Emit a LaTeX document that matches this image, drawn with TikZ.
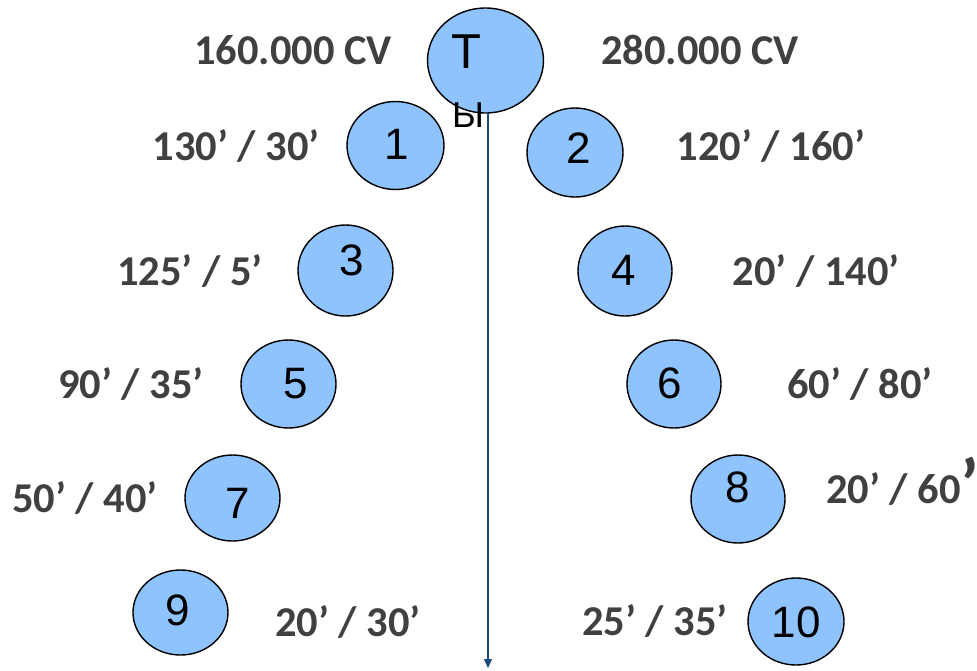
\documentclass[tikz,border=0pt]{standalone}
\usepackage{fontspec}
\setmainfont{Liberation Sans}
\newfontfamily\labfont{Carlito}
\usetikzlibrary{arrows.meta}
\definecolor{cfill}{HTML}{8EC3FD}
\definecolor{ltxt}{HTML}{404040}
\definecolor{arr}{HTML}{1C4A7E}
\tikzset{
  num/.style={font=\fontsize{44}{44}\selectfont, text=black, inner sep=0pt},
  lab/.style={font=\labfont\bfseries\fontsize{42.5}{42.5}\selectfont, text=ltxt, inner sep=0pt},
}
\begin{document}
\begin{tikzpicture}[x=1pt,y=-1pt]
\useasboundingbox (0,0) rectangle (977,670);
% circles
\newcommand{\bubble}[5]{\path[draw=black,line width=1.4pt,fill=cfill] (#1,#2) ellipse [x radius=#3, y radius=#4]; \coordinate (#5) at (#1,#2);}
\bubble{485.5}{60.5}{58}{52.5}{cT}
\bubble{395.5}{145.5}{48.5}{44}{c1}
\bubble{575}{152.5}{48}{44.5}{c2}
\bubble{345.5}{270.5}{47.5}{45.5}{c3}
\bubble{625}{271}{47}{45}{c4}
\bubble{288.5}{384}{47.5}{44}{c5}
\bubble{674}{384}{47}{44}{c6}
\bubble{232.5}{498}{47.5}{43}{c7}
\bubble{738}{499}{47}{44}{c8}
\bubble{180.5}{612.5}{47.5}{42.5}{c9}
\bubble{796}{621.5}{48}{43.5}{c10}
% texts in circles
\node[num, font=\fontsize{49}{49}\selectfont] (tT) at (466,52) {T};
\node[num, font=\fontsize{36}{36}\selectfont] (tY) at (468,115) {Ы};
\node[num] (t1) at (397,144) {1};
\node[num] (t2) at (579,148) {2};
\node[num] (t3) at (352,260) {3};
\node[num] (t4) at (624,270) {4};
\node[num] (t5) at (296,384) {5};
\node[num] (t6) at (670,383) {6};
\node[num] (t7) at (238,503) {7};
\node[num] (t8) at (738,487) {8};
\node[num] (t9) at (178,610) {9};
\node[num] (t10) at (796,622) {10};
% arrow
\coordinate (aS) at (488,113);
\coordinate (aE) at (488,668);
\draw[arr, line width=1.3pt, -{Triangle[length=9pt,width=8pt]}] (aS) -- (aE);
% labels
\node[lab] (l0a) at (293,50) {160.000 CV};
\node[lab] (l0b) at (700,50) {280.000 CV};
\node[lab] (l1) at (236,146) {130’ / 30’};
\node[lab] (l2) at (771,146) {120’ / 160’};
\node[lab] (l3) at (190,271) {125’ / 5’};
\node[lab] (l4) at (816,271) {20’ / 140’};
\node[lab] (l5) at (131,384) {90’ / 35’};
\node[lab] (l6) at (860,384) {60’ / 80’};
\node[lab] (l7) at (85,498) {50’ / 40’};
\node[lab, anchor=base west] (l8) at (826,503) {20’ / 60\rlap{\raisebox{-6pt}{\fontsize{72}{72}\selectfont ’}}};
\node[lab] (l9) at (348,622) {20’ / 30’};
\node[lab] (l10) at (655,621) {25’ / 35’};
\end{tikzpicture}
\end{document}
